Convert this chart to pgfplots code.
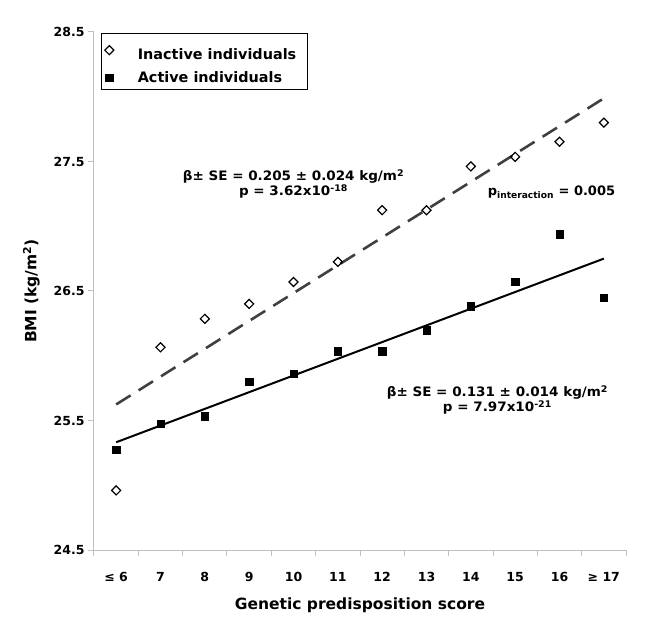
\documentclass[border=0pt]{standalone}
\usepackage{fontspec}
\setmainfont{DejaVu Sans}
\newfontfamily\annfont[FakeStretch=1.04]{DejaVu Sans}
\usepackage{pgfplots}
\pgfplotsset{compat=1.18}
\definecolor{axgray}{RGB}{192,192,192}
\definecolor{dashgray}{RGB}{64,64,64}
\begin{document}
\begin{tikzpicture}
\useasboundingbox (-94pt,-79pt) rectangle (562pt,550pt);
\begin{axis}[
  at={(0pt,0pt)}, anchor=south west,
  scale only axis, width=532pt, height=518pt,
  xmin=-0.5, xmax=11.5, ymin=24.5, ymax=28.5,
  axis lines=left,
  axis line style={axgray, line width=1pt, -},
  xtick={0,1,2,3,4,5,6,7,8,9,10,11},
  xticklabels={≤ 6,7,8,9,10,11,12,13,14,15,16,≥ 17},
  minor xtick={-0.5,0.5,1.5,2.5,3.5,4.5,5.5,6.5,7.5,8.5,9.5,10.5,11.5},
  major x tick style={draw=none},
  ytick={24.5,25.5,26.5,27.5,28.5},
  tick style={axgray, line width=1pt},
  tick align=outside,
  major tick length=6pt, minor tick length=6pt,
  /pgf/number format/assume math mode=true,
  ticklabel style={font=\fontsize{12.5}{15}\selectfont\bfseries},
  xticklabel style={yshift=-13pt},
  xlabel={Genetic predisposition score},
  ylabel={BMI (kg/m\textsuperscript{2})},
  label style={font=\fontsize{15.5}{18}\selectfont\bfseries},
  xlabel style={at={(axis description cs:0.5,-0.1062)}, anchor=center},
  ylabel style={at={(axis description cs:-0.1175,0.5)}, anchor=center},
  legend style={at={(axis description cs:0.0139,0.998)}, anchor=north west,
    draw=black, line width=0.8pt, inner xsep=3pt, inner ysep=4pt, row sep=6.5pt,
    font=\fontsize{14.4}{17}\selectfont\bfseries},
  legend cell align=left,
  clip=false,
]
\addplot[forget plot, dashgray, line width=2.6pt, dash pattern=on 17pt off 9.5pt]
  coordinates {(0,25.624) (11,27.988)};
\addplot[forget plot, black, line width=2pt]
  coordinates {(0,25.332) (11,26.75)};
\addplot[only marks, mark=square, mark size=3.2pt,
  mark options={rotate=45, fill=white, draw=black, line width=1.2pt}]
  coordinates {(0,24.96) (1,26.065) (2,26.285) (3,26.40) (4,26.57) (5,26.725)
    (6,27.124) (7,27.124) (8,27.462) (9,27.536) (10,27.652) (11,27.80)};
\addlegendentry{\rule{0pt}{20pt}\hspace{22pt}Inactive individuals\rule{6pt}{0pt}}
\addplot[only marks, mark=square*, mark size=3.7pt, black]
  coordinates {(0,25.275) (1,25.477) (2,25.534) (3,25.798) (4,25.863) (5,26.034)
    (6,26.034) (7,26.198) (8,26.382) (9,26.57) (10,26.94) (11,26.45)};
\addlegendentry{\hspace{22pt}Active individuals}
\begin{scope}[every node/.style={font=\annfont\fontsize{13}{15}\selectfont\bfseries, inner sep=0pt}]
\node at (axis cs:4.0,27.383) {β± SE = 0.205 ± 0.024 kg/m\textsuperscript{2}};
\node at (axis cs:4.0,27.267) {p = 3.62x10\textsuperscript{-18}};
\node at (axis cs:8.6,25.718) {β± SE = 0.131 ± 0.014 kg/m\textsuperscript{2}};
\node at (axis cs:8.6,25.602) {p = 7.97x10\textsuperscript{-21}};
\end{scope}
\node[font=\fontsize{13}{15}\selectfont\bfseries, inner sep=0pt] at (axis cs:9.82,27.264) {p\textsubscript{interaction} = 0.005};
\end{axis}
\end{tikzpicture}
\end{document}
